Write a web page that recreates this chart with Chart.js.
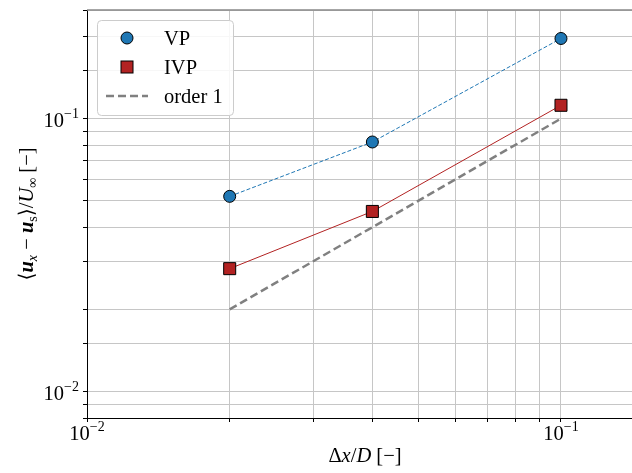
<!DOCTYPE html>
<html>
<head>
<meta charset="utf-8">
<script src="https://cdn.jsdelivr.net/npm/chart.js@4"></script>
<style>
  html, body { margin: 0; padding: 0; background: #fff; }
  canvas { display: block; }
</style>
</head>
<body>
<canvas id="chart" width="632" height="473"></canvas>
<script>
// grid spacing dx/D and the errors
const dx = [0.02, 0.04, 0.1]
const errVP = [0.0519, 0.0821, 0.1966]
const errIVP = [0.0282, 0.0457, 0.1119]
const orderX = [0.02, 0.1]
const orderY = [0.02, 0.1]
const xRange = [0.01, 0.1412]
const yRange = [0.008, 0.25]
const seriesNames = ["VP", "IVP", "order 1"]

const SERIF = "'Liberation Serif', 'DejaVu Serif', serif"
const FS = 20.5
const SMALL = 14

const fontFor = (style, size) => {
  const s = style === "bi" ? "italic bold " : style === "i" ? "italic " : ""
  return `${s}${size}px ${SERIF}`
}

// segments: [text, style, shift]  shift 1 = subscript, -1 = superscript
function richWidth(ctx, segs) {
  let w = 0
  segs.forEach(([t, st, sh]) => {
    ctx.font = fontFor(st, sh ? SMALL : FS)
    w += ctx.measureText(t).width
  })
  return w
}

function drawRich(ctx, segs, x, y) {
  segs.forEach(([t, st, sh]) => {
    ctx.font = fontFor(st, sh ? SMALL : FS)
    const dy = sh === 1 ? 4 : sh === -1 ? -9 : 0
    ctx.fillText(t, x, y + dy)
    x += ctx.measureText(t).width
  })
}

const yTitle = [
  ["⟨", "r"], ["u", "bi"], ["x", "i", 1], [" − ", "r"], ["u", "bi"], ["s", "r", 1],
  ["⟩", "r"], ["/", "r"], ["U", "i"], ["∞", "r", 1], [" [−]", "r"]
]
const xTitle = [["Δ", "r"], ["x", "i"], ["/", "r"], ["D", "i"], [" [−]", "r"]]

const isPow10 = (v) => Math.abs(Math.log10(v) - Math.round(Math.log10(v))) < 1e-9
const powLabel = (v) => [["10", "r"], ["−" + Math.abs(Math.round(Math.log10(v))), "r", -1]]

// titles, tick labels, top frame and legend
const decorPlugin = {
  id: "decor",
  afterDraw(chart) {
    const ctx = chart.ctx
    const area = chart.chartArea
    const xs = chart.scales.x
    const ys = chart.scales.y
    ctx.save()
    ctx.fillStyle = "#000"
    ctx.textBaseline = "alphabetic"
    ctx.textAlign = "left"

    // top frame line
    ctx.strokeStyle = "#888"
    ctx.lineWidth = 1.5
    ctx.beginPath()
    ctx.moveTo(area.left, area.top)
    ctx.lineTo(area.right, area.top)
    ctx.stroke()

    // y tick labels
    ys.ticks.forEach((t) => {
      if (!isPow10(t.value)) return
      const py = ys.getPixelForValue(t.value)
      const segs = powLabel(t.value)
      const w = richWidth(ctx, segs)
      drawRich(ctx, segs, 79 - w, py + 8)
    })
    // x tick labels
    xs.ticks.forEach((t) => {
      if (!isPow10(t.value)) return
      const px = xs.getPixelForValue(t.value)
      const segs = powLabel(t.value)
      const w = richWidth(ctx, segs)
      drawRich(ctx, segs, px - w / 2, 440)
    })

    // axis titles
    const wx = richWidth(ctx, xTitle)
    drawRich(ctx, xTitle, 365 - wx / 2, 462)
    const wy = richWidth(ctx, yTitle)
    ctx.translate(33, (area.top + area.bottom) / 2)
    ctx.rotate(-Math.PI / 2)
    drawRich(ctx, yTitle, -wy / 2, 0)
    ctx.setTransform(1, 0, 0, 1, 0, 0)

    // legend
    ctx.fillStyle = "rgba(255,255,255,0.85)"
    ctx.strokeStyle = "#cccccc"
    ctx.lineWidth = 1
    ctx.beginPath()
    ctx.roundRect(97.5, 20.5, 136, 95, 4)
    ctx.fill()
    ctx.stroke()

    const ds = chart.data.datasets
    const rows = [38, 67, 96]
    ds.forEach((d, i) => {
      const cy = rows[i]
      ctx.setLineDash([])
      if (d.pointStyle === "circle" && d.pointRadius > 0) {
        ctx.beginPath()
        ctx.arc(127, cy, 6, 0, Math.PI * 2)
        ctx.fillStyle = d.pointBackgroundColor
        ctx.fill()
        ctx.strokeStyle = "#000"
        ctx.lineWidth = 1
        ctx.stroke()
      } else if (d.pointStyle === "rect" && d.pointRadius > 0) {
        ctx.fillStyle = d.pointBackgroundColor
        ctx.fillRect(121, cy - 6, 12, 12)
        ctx.strokeStyle = "#000"
        ctx.lineWidth = 1
        ctx.strokeRect(121, cy - 6, 12, 12)
      } else {
        ctx.strokeStyle = d.borderColor
        ctx.lineWidth = d.borderWidth
        ctx.setLineDash(d.borderDash)
        ctx.beginPath()
        ctx.moveTo(106, cy)
        ctx.lineTo(148, cy)
        ctx.stroke()
      }
      ctx.setLineDash([])
      ctx.fillStyle = "#000"
      ctx.font = fontFor("r", FS)
      ctx.fillText(d.label, 164, cy + 6.5)
    })
    ctx.restore()
  }
}

const gridColor = "#c6c6c6"
// no grid line or tick at the clipped right edge
const xGridColor = (c) => (c.tick && c.tick.value >= xRange[1] ? "rgba(0,0,0,0)" : gridColor)
const xTickColor = (c) => (c.tick && c.tick.value >= xRange[1] ? "rgba(0,0,0,0)" : "#000")

new Chart(document.getElementById("chart"), {
  type: "line",
  data: {
    datasets: [
      {
        label: seriesNames[0],
        data: dx.map((x, i) => ({ x, y: errVP[i] })),
        borderColor: "#1f77b4",
        borderWidth: 1,
        borderDash: [4, 2],
        pointStyle: "circle",
        pointRadius: 6,
        pointBackgroundColor: "#1f77b4",
        pointBorderColor: "#000",
        pointBorderWidth: 1,
        tension: 0,
      },
      {
        label: seriesNames[1],
        data: dx.map((x, i) => ({ x, y: errIVP[i] })),
        borderColor: "#b22222",
        borderWidth: 1,
        borderDash: [],
        pointStyle: "rect",
        pointRadius: 8.5,
        pointBackgroundColor: "#b22222",
        pointBorderColor: "#000",
        pointBorderWidth: 1,
        tension: 0,
      },
      {
        label: seriesNames[2],
        data: orderX.map((x, i) => ({ x, y: orderY[i] })),
        borderColor: "#808080",
        borderWidth: 2.5,
        borderDash: [8, 4],
        pointStyle: false,
        pointRadius: 0,
        tension: 0,
      },
    ],
  },
  options: {
    responsive: false,
    animation: false,
    devicePixelRatio: 1,
    layout: { autoPadding: false, padding: { left: 0, top: 10, right: 0, bottom: 0 } },
    plugins: {
      legend: { display: false },
      tooltip: { enabled: false },
    },
    scales: {
      x: {
        type: "logarithmic",
        min: xRange[0],
        max: xRange[1],
        afterFit: (s) => {
          s.height = 55
          s.paddingLeft = 0
          s.paddingRight = 0
        },
        border: { color: "#000", width: 1 },
        grid: { color: xGridColor, tickColor: xTickColor, tickLength: 4 },
        ticks: { autoSkip: false, maxRotation: 0, callback: () => "" },
      },
      y: {
        type: "logarithmic",
        min: yRange[0],
        max: yRange[1],
        afterFit: (s) => {
          s.width = 87
          s.paddingTop = 0
          s.paddingBottom = 0
        },
        border: { color: "#000", width: 1 },
        grid: { color: gridColor, tickColor: "#000", tickLength: 4 },
        ticks: { autoSkip: false, callback: () => "" },
      },
    },
  },
  plugins: [decorPlugin],
})
</script>
</body>
</html>
